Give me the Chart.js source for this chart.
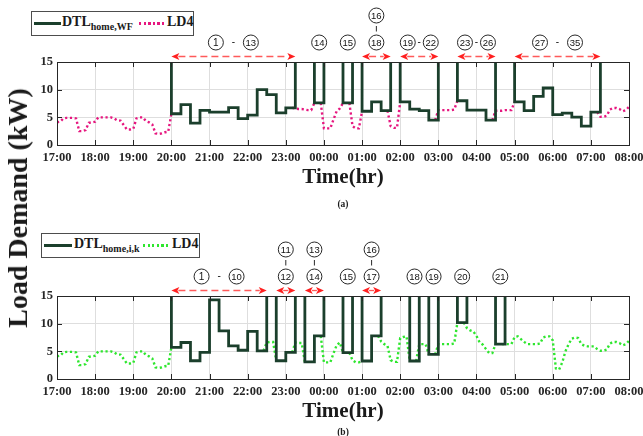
<!DOCTYPE html>
<html lang="en">
<head>
  <meta charset="UTF-8" />
  <title>Load Demand - DTL vs LD4</title>
  <script src="https://cdn.jsdelivr.net/npm/chart.js"></script>
  <style>
    body { margin: 0; background: #fff; }
    #wrap { position: relative; width: 643px; height: 436px; overflow: hidden;
            font-family: "Liberation Serif", "Times New Roman", serif; color: #1a1a1a; }
    canvas { position: absolute; left: 0; }
    #chartA { top: 0; }
    #chartB { top: 220px; }
    .legend { position: absolute; border: 1px solid #4d4d4d; background: #fff;
              font-weight: bold; font-size: 14px; line-height: 14px; }
    .legend span { position: absolute; white-space: nowrap; }
    .legend sub { font-size: 10px; vertical-align: -4px; }
    .solid { height: 3px; background: #1b3f2c; }
    .dots { height: 3px; }
    .ylabel { position: absolute; left: 18px; top: 208px; white-space: nowrap;
              transform: translate(-50%, -50%) rotate(-90deg);
              font-weight: bold; font-size: 28px; }
    .tag { position: absolute; transform: translateX(-50%); font-weight: bold; font-size: 9.5px; }
  </style>
</head>
<body>
  <div id="wrap">
    <canvas id="chartA" width="643" height="200"></canvas>
    <canvas id="chartB" width="643" height="212"></canvas>

    <div class="legend" style="left:31px; top:11px; width:161px; height:23px;">
      <span class="solid" style="left:2px; top:10px; width:27px;"></span>
      <span style="left:30px; top:3px;">DTL<sub>home,WF</sub></span>
      <span class="dots" style="left:107px; top:10px; width:25px;
        background: repeating-linear-gradient(90deg, #e6177f 0 2.3px, transparent 2.3px 4.6px);"></span>
      <span style="left:135px; top:3px;">LD4</span>
    </div>

    <div class="legend" style="left:41px; top:233px; width:157px; height:23px;">
      <span class="solid" style="left:2px; top:10px; width:28px;"></span>
      <span style="left:32px; top:3px;">DTL<sub>home,i,k</sub></span>
      <span class="dots" style="left:101px; top:10px; width:26px;
        background: repeating-linear-gradient(90deg, #2ee62e 0 2.3px, transparent 2.3px 4.6px);"></span>
      <span style="left:130px; top:3px;">LD4</span>
    </div>

    <div class="ylabel">Load Demand (kW)</div>
    <div class="tag" style="left:343px; top:199px;">(a)</div>
    <div class="tag" style="left:343px; top:427px;">(b)</div>
  </div>

  <script>
    // x axis: hours after 17:00, one tick per hour
    const hourLabels = ['17:00', '18:00', '19:00', '20:00', '21:00', '22:00', '23:00', '00:00',
                        '01:00', '02:00', '03:00', '04:00', '05:00', '06:00', '07:00', '08:00'];
    const yTicks = [0, 5, 10, 15];

    // LD4 every 5 minutes from 17:00 to 08:00 (null = never visible in either plot)
    const ld4 = [
      4.1, 4.2, 4.8, 4.9, 4.9, 4.9, 4.8, 2.5, 2.5, 2.7, 4.0, 4.1,            // 17:00
      4.2, 5.0, 5.0, 5.0, 5.0, 5.0, 4.8, 4.4, 4.4, 3.6, 2.8, 2.8,            // 18:00
      2.9, 4.8, 5.0, 5.0, 4.3, 4.1, 3.7, 2.1, 2.0, 2.1, 2.3, 2.4,            // 19:00
      null, null, null, null, null, null, null, null, null, null, null, null, // 20:00
      null, null, null, null, null, null, null, null, null, null, null, null, // 21:00
      null, null, null, null, null, null, 6.6, 6.7, 6.7, null, null, null,   // 22:00
      null, null, null, 6.6, 6.5, 6.5, 6.4, 6.3, 6.3, null, null, null,      // 23:00
      3.0, 3.0, 3.0, 4.6, 6.1, 6.6, null, null, null, 3.4, 3.0, 3.0,         // 00:00
      null, null, null, null, null, null, 6.8, 6.3, 6.0, 3.4, 3.1, 3.1,      // 01:00
      7.4, 7.6, 7.7, null, null, null, 6.3, 6.3, 6.3, null, null, null,      // 02:00
      6.3, 6.3, 6.3, 6.3, 6.3, 6.4, null, null, null, 9.2, 8.8, 8.6,         // 03:00
      7.8, 6.6, 6.2, 5.4, 4.7, 4.7, 6.2, 6.2, 6.2, 6.3, 6.3, 6.3,            // 04:00
      7.6, 7.7, 7.2, 6.7, 6.3, 6.3, 6.3, 6.3, 6.4, 7.5, 7.7, 7.7,            // 05:00
      7.0, 1.9, 1.7, 3.0, 5.0, 6.3, 7.3, 7.5, 7.4, 6.3, 6.0, 5.9,            // 06:00
      5.9, 5.9, 5.4, 5.1, 5.1, 5.3, 6.4, 6.7, 6.7, 6.5, 6.1, 6.3,            // 07:00
      6.9                                                                     // 08:00
    ];

    // DTL per 15-minute slot from 17:00 (null = no DTL in that slot)
    const dtlWF = [
      null, null, null, null, null, null, null, null, null, null, null, null, // 17:00-20:00
      5.65, 7.3, 3.95, 6.25, 5.95, 5.95, 6.75, 4.75, 5.4, 10.0, 9.1, 5.8, 6.7, // 20:00-23:15
      null, null, 7.6, null, null, 7.6, null,                                   // 23:15-01:00
      6.1, 7.8, 6.2, null,                                                      // 01:00-02:00
      7.8, 6.5, 6.2, 4.5, null, null,                                           // 02:00-03:30
      8.0, 6.3, 6.3, 4.5, null, null,                                           // 03:30-05:00
      7.8, 6.2, 8.8, 10.3, 5.5, 5.75, 5.05, 3.4, 5.95,                          // 05:00-07:15
      null, null, null                                                          // 07:15-08:00
    ];
    const dtlIK = [
      null, null, null, null, null, null, null, null, null, null, null, null, // 17:00-20:00
      5.7, 6.6, 3.3, 4.8, 14.3, 8.7, 6.0, 5.2, 8.6, 5.1,                      // 20:00-22:30
      null, 3.3, 4.8, null, 3.1, 7.8,                                          // 22:30-00:00
      null, null, 4.75, null, 3.25, 7.8,                                       // 00:00-01:30
      null, null, null, 3.25, null, 4.45,                                      // 01:30-03:00
      null, null, 10.2, null, null, null, 6.3,                                 // 03:00-04:45
      null, null, null, null, null, null, null, null, null, null, null, null, null // 04:45-08:00
    ];

    // circled slot numbers above each plot
    const notesA = [
      { from: '20:00', to: '23:15', labels: ['1', '13'], arrow: true },
      { from: '23:45', to: '00:00', labels: ['14'] },
      { from: '00:30', to: '00:45', labels: ['15'] },
      { from: '01:00', to: '01:45', labels: ['18'], upper: '16', arrow: true },
      { from: '02:00', to: '03:00', labels: ['19', '22'], arrow: true },
      { from: '03:30', to: '04:30', labels: ['23', '26'], arrow: true },
      { from: '05:00', to: '07:15', labels: ['27', '35'], arrow: true }
    ];
    const notesB = [
      { from: '20:00', to: '22:30', labels: ['1', '10'], arrow: true },
      { from: '22:45', to: '23:15', labels: ['12'], upper: '11', arrow: true },
      { from: '23:30', to: '00:00', labels: ['14'], upper: '13', arrow: true },
      { from: '00:30', to: '00:45', labels: ['15'] },
      { from: '01:00', to: '01:30', labels: ['17'], upper: '16', arrow: true },
      { from: '02:15', to: '02:30', labels: ['18'] },
      { from: '02:45', to: '03:00', labels: ['19'] },
      { from: '03:30', to: '03:45', labels: ['20'] },
      { from: '04:30', to: '04:45', labels: ['21'] }
    ];

    const OFF = 40; // DTL is drawn off the top of the axes where it is not scheduled
    const serif = '"Liberation Serif", "Times New Roman", serif';
    const sans = '"Liberation Sans", Arial, sans-serif';

    function hoursFrom17(t) {
      const [h, m] = t.split(':').map(Number);
      return ((h - 17 + 24) % 24) + m / 60;
    }

    function dtlPoints(dtl) {
      const pts = dtl.map((v, q) => ({ x: q / 4, y: v == null ? OFF : v }));
      pts.push({ x: 15, y: pts[pts.length - 1].y });
      return pts;
    }

    // LD4 shown only where DTL is off, joined to the DTL level at each edge
    function ld4Points(dtl) {
      const active = i => dtl[Math.floor(i / 3)] != null;
      return ld4.map((v, i) => {
        if (!active(i)) return { x: i / 12, y: v };
        if (i > 0 && active(i - 1) && active(i + 1)) return { x: i / 12, y: null };
        return { x: i / 12, y: dtl[Math.floor(i / 3)] };
      });
    }

    const framePlugin = {
      id: 'frame',
      afterDatasetsDraw(chart) {
        const { ctx, chartArea: a, scales } = chart;
        ctx.save();
        ctx.strokeStyle = '#262626';
        ctx.lineWidth = 1;
        ctx.beginPath();
        scales.x.ticks.forEach(t => {
          const x = Math.round(scales.x.getPixelForValue(t.value)) + 0.5;
          ctx.moveTo(x, a.bottom); ctx.lineTo(x, a.bottom - 5);
          ctx.moveTo(x, a.top); ctx.lineTo(x, a.top + 5);
        });
        scales.y.ticks.forEach(t => {
          const y = Math.round(scales.y.getPixelForValue(t.value)) + 0.5;
          ctx.moveTo(a.left, y); ctx.lineTo(a.left + 5, y);
          ctx.moveTo(a.right, y); ctx.lineTo(a.right - 5, y);
        });
        ctx.stroke();
        ctx.strokeRect(Math.round(a.left) + 0.5, Math.round(a.top) + 0.5,
                       Math.round(a.right - a.left), Math.round(a.bottom - a.top));
        ctx.restore();
      }
    };

    function circled(ctx, x, y, text) {
      ctx.beginPath();
      ctx.arc(x, y, 7.5, 0, Math.PI * 2);
      ctx.lineWidth = 0.9;
      ctx.strokeStyle = '#111';
      ctx.stroke();
      ctx.fillStyle = '#111';
      ctx.font = (text.length > 1 ? '9.5px ' : '10px ') + sans;
      ctx.textAlign = 'center';
      ctx.textBaseline = 'middle';
      ctx.fillText(text, x, y + 0.5);
    }

    function arrow(ctx, x1, x2, y) {
      const head = 8, half = 3.5;
      ctx.strokeStyle = '#ff5a5a';
      ctx.lineWidth = 1.3;
      ctx.setLineDash([7, 4]);
      ctx.beginPath();
      ctx.moveTo(x1 + head - 1, y);
      ctx.lineTo(x2 - head + 1, y);
      ctx.stroke();
      ctx.setLineDash([]);
      ctx.fillStyle = '#ff1f1f';
      [[x1, 1], [x2, -1]].forEach(([x, d]) => {
        ctx.beginPath();
        ctx.moveTo(x, y);
        ctx.lineTo(x + d * head, y - half);
        ctx.lineTo(x + d * (head - 2), y);
        ctx.lineTo(x + d * head, y + half);
        ctx.closePath();
        ctx.fill();
      });
    }

    function notesPlugin(notes) {
      return {
        id: 'notes',
        afterDraw(chart) {
          const { ctx, chartArea: a, scales: { x: xs } } = chart;
          const arrowY = a.top - 5.5, lowY = a.top - 19.5, upY = a.top - 46.5;
          ctx.save();
          notes.forEach(n => {
            const x1 = xs.getPixelForValue(hoursFrom17(n.from));
            const x2 = xs.getPixelForValue(hoursFrom17(n.to));
            const mid = (x1 + x2) / 2;
            if (n.arrow) arrow(ctx, x1, x2, arrowY);
            if (n.labels.length === 2) {
              const h = x2 - x1 > 60 ? 17.5 : 11.5;
              circled(ctx, mid - h, lowY, n.labels[0]);
              circled(ctx, mid + h, lowY, n.labels[1]);
              ctx.fillStyle = '#111';
              ctx.font = '10px ' + sans;
              ctx.fillText('-', mid, lowY);
            } else {
              circled(ctx, mid, lowY, n.labels[0]);
            }
            if (n.upper) {
              circled(ctx, mid, upY, n.upper);
              ctx.beginPath();
              ctx.moveTo(mid, upY + 10.5);
              ctx.lineTo(mid, lowY - 11);
              ctx.lineWidth = 0.9;
              ctx.stroke();
            }
          });
          ctx.restore();
        }
      };
    }

    function makeChart(id, dtl, ldColor, notes, padTop, padBottom) {
      const tickFont = { family: serif, size: 12.5, weight: 'bold' };
      new Chart(document.getElementById(id).getContext('2d'), {
        type: 'line',
        data: {
          datasets: [
            { data: dtlPoints(dtl), borderColor: '#1b3f2c', borderWidth: 2.8,
              stepped: true, pointRadius: 0, fill: false },
            { data: ld4Points(dtl), borderColor: ldColor, borderWidth: 2.4,
              borderDash: [2.2, 2.6], pointRadius: 0, tension: 0, fill: false }
          ]
        },
        options: {
          responsive: false,
          animation: false,
          events: [],
          layout: { padding: { top: padTop, right: 14, bottom: padBottom, left: 0 } },
          plugins: { legend: { display: false }, tooltip: { enabled: false } },
          scales: {
            x: {
              type: 'linear', min: 0, max: 15,
              afterBuildTicks: s => { s.ticks = hourLabels.map((_, i) => ({ value: i })); },
              afterFit: s => { s.height = 50; s.paddingLeft = 0; s.paddingRight = 0; },
              ticks: { padding: 5, maxRotation: 0, autoSkip: false, color: '#262626',
                       font: tickFont, callback: (v, i) => hourLabels[i] },
              grid: { color: '#dedede', drawTicks: false },
              border: { display: false },
              title: { display: true, text: 'Time(hr)', color: '#1a1a1a',
                       font: { family: serif, size: 21, weight: 'bold' },
                       padding: { top: 0, bottom: 5 } }
            },
            y: {
              min: 0, max: 15,
              afterBuildTicks: s => { s.ticks = yTicks.map(v => ({ value: v })); },
              afterFit: s => { s.width = 57; },
              ticks: { padding: 4, color: '#262626', font: tickFont },
              grid: { color: '#dedede', drawTicks: false },
              border: { display: false }
            }
          }
        },
        plugins: [framePlugin, notesPlugin(notes)]
      });
    }

    makeChart('chartA', dtlWF, '#e6177f', notesA, 62, 5);
    makeChart('chartB', dtlIK, '#2ee62e', notesB, 76, 3);
  </script>
</body>
</html>
